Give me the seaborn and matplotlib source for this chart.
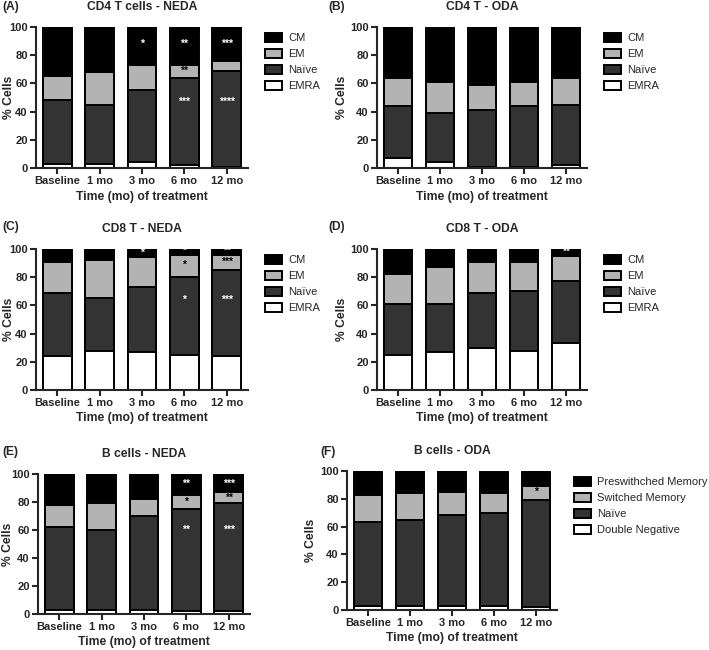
import matplotlib
matplotlib.use("Agg")
import matplotlib.pyplot as plt
import seaborn as sns
from matplotlib.patches import Patch

sns.set_style("ticks")
plt.rcParams["font.family"] = ["Liberation Sans", "DejaVu Sans"]

times = ["Baseline", "1 mo", "3 mo", "6 mo", "12 mo"]
t_layers = ["EMRA", "Naïve", "EM", "CM"]
b_layers = ["Double Negative", "Naïve", "Switched Memory", "Preswithched Memory"]
layer_colors = ["white", "#333333", "#b3b3b3", "black"]

# cumulative segment tops (bottom -> top)
cd4_neda = [[3, 3, 4, 2, 1], [48, 45, 55, 64, 69], [65, 68, 73, 73, 76], [100, 100, 100, 100, 100]]
cd4_oda = [[7, 4, 1, 1, 2], [44, 39, 41, 44, 45], [64, 61, 59, 61, 64], [100, 99, 100, 100, 100]]
cd8_neda = [[24, 28, 27, 25, 24], [69, 65, 73, 80, 85], [91, 92, 94, 96, 96], [100, 100, 100, 100, 100]]
cd8_oda = [[25, 27, 30, 28, 33], [61, 61, 69, 70, 77], [82, 87, 91, 91, 95], [100, 100, 100, 100, 100]]
b_neda = [[3, 3, 3, 2, 2], [62, 60, 70, 75, 79], [78, 79, 82, 85, 87], [100, 100, 100, 100, 100]]
b_oda = [[3, 3, 3, 3, 2], [63, 65, 68, 70, 79], [83, 84, 85, 84, 89], [100, 100, 100, 99, 100]]

# significance marks: (time index, layer index, label, y)
stars_cd4_neda = [(2, 3, "*", 88), (3, 3, "**", 88), (3, 2, "**", 69), (3, 1, "***", 47),
                  (4, 3, "***", 88), (4, 2, "****", 78), (4, 1, "****", 47)]
stars_cd8_neda = [(2, 3, "*", 97), (3, 3, "*", 98.5), (3, 2, "*", 89), (3, 1, "*", 64),
                  (4, 3, "**", 98.5), (4, 2, "***", 91), (4, 1, "***", 64)]
stars_cd8_oda = [(4, 3, "**", 98)]
stars_b_neda = [(3, 3, "**", 93), (3, 2, "*", 80), (3, 1, "**", 60),
                (4, 3, "***", 93), (4, 2, "**", 83), (4, 1, "***", 60)]
stars_b_oda = [(4, 2, "*", 85)]

W, H = 709, 650
fig = plt.figure(figsize=(W / 100, H / 100), dpi=100)


def px_axes(x0, x1, ytop, ybot):
    return fig.add_axes([x0 / W, 1 - ybot / H, (x1 - x0) / W, (ybot - ytop) / H])


def draw_panel(ax, data, title, stars, ylab_px, legend_labels=None, leg_x=1.06):
    # draw from the top segment down so lower segments overlay
    for vals, col in zip(reversed(data), reversed(layer_colors)):
        sns.barplot(x=times, y=vals, color=col, saturation=1, edgecolor="black",
                    linewidth=1.4, width=0.68, ax=ax)
    for i, layer, lab, y in stars:
        ax.text(i, y, lab, ha="center", va="center", fontsize=7.5, fontweight="bold",
                color="black" if layer == 2 else "white")
    ax.set_ylim(0, 100)
    ax.set_xlim(-0.5, 4.5)
    ax.set_yticks([0, 20, 40, 60, 80, 100])
    sns.despine(ax=ax)
    for s in ["left", "bottom"]:
        ax.spines[s].set_linewidth(1.5)
    ax.tick_params(width=1.5, length=4, labelsize=8, pad=2)
    for t in ax.get_xticklabels() + ax.get_yticklabels():
        t.set_fontweight("bold")
    ax.set_title(title, fontsize=8.7, fontweight="bold", pad=12)
    ax.set_xlabel("Time (mo) of treatment", fontsize=8.7, fontweight="bold", labelpad=3)
    ax.set_ylabel("% Cells", fontsize=8.7, fontweight="bold")
    bb = ax.get_position()
    ax.yaxis.set_label_coords((ylab_px / W - bb.x0) / bb.width, 0.5)
    if legend_labels is not None:
        handles = [Patch(facecolor=c, edgecolor="black", linewidth=1.4, label=l)
                   for c, l in zip(reversed(layer_colors), reversed(legend_labels))]
        ax.legend(handles=handles, loc="upper left", bbox_to_anchor=(leg_x, 0.99),
                  frameon=False, fontsize=8, handlelength=1.5, handleheight=0.9,
                  handletextpad=0.6, labelspacing=0.5, borderaxespad=0)


axA = px_axes(36, 248, 27, 168)
axB = px_axes(377, 587, 27, 168)
axC = px_axes(36, 248, 249, 390)
axD = px_axes(377, 587, 249, 390)
axE = px_axes(38, 250, 474, 614)
axF = px_axes(347, 557, 471, 610)

draw_panel(axA, cd4_neda, "CD4 T cells - NEDA", stars_cd4_neda, 15, t_layers)
draw_panel(axB, cd4_oda, "CD4 T - ODA", [], 348, t_layers)
draw_panel(axC, cd8_neda, "CD8 T - NEDA", stars_cd8_neda, 15, t_layers)
draw_panel(axD, cd8_oda, "CD8 T - ODA", stars_cd8_oda, 348, t_layers)
draw_panel(axE, b_neda, "B cells - NEDA", stars_b_neda, 14)
draw_panel(axF, b_oda, "B cells - ODA", stars_b_oda, 317, b_layers)

for lab, x, y in [("(A)", 2, 7), ("(B)", 328, 7), ("(C)", 2, 227), ("(D)", 328, 227),
                  ("(E)", 2, 452), ("(F)", 320, 452)]:
    fig.text(x / W, 1 - y / H, lab, ha="left", va="center", fontsize=8.7, fontweight="bold")

fig.savefig("out.png", dpi=100)
